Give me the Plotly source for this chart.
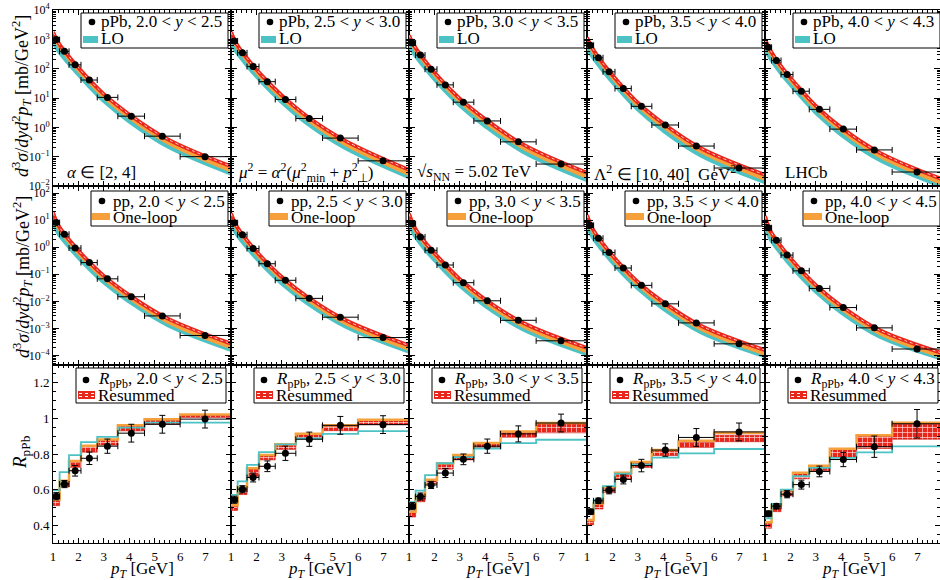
import plotly.graph_objects as go
from plotly.subplots import make_subplots

# ---------------- data ----------------
PT_CENTERS = [1.13, 1.45, 1.87, 2.43, 3.14, 4.08, 5.30, 6.98]
PT_EDGES = [1.0, 1.26, 1.63, 2.10, 2.74, 3.55, 4.60, 6.00, 8.00]
CURVE_PT = [1.0, 1.2, 1.6, 2.2, 3.0, 4.0, 5.5, 8.0]

PPB_RAPIDITY = ["2.0 &lt; <i>y</i> &lt; 2.5", "2.5 &lt; <i>y</i> &lt; 3.0", "3.0 &lt; <i>y</i> &lt; 3.5",
                "3.5 &lt; <i>y</i> &lt; 4.0", "4.0 &lt; <i>y</i> &lt; 4.3"]
PP_RAPIDITY = ["2.0 &lt; <i>y</i> &lt; 2.5", "2.5 &lt; <i>y</i> &lt; 3.0", "3.0 &lt; <i>y</i> &lt; 3.5",
               "3.5 &lt; <i>y</i> &lt; 4.0", "4.0 &lt; <i>y</i> &lt; 4.5"]

# pPb cross sections [mb/GeV^2]
PPB_DATA_Y1 = [980, 390, 135, 41, 10.5, 2.4, 0.50, 0.10]
PPB_DATA_Y2 = [880, 347, 118, 36, 8.9, 2.0, 0.43, 0.072]
PPB_DATA_Y3 = [755, 290, 96, 28, 7.2, 1.65, 0.32, 0.056]
PPB_DATA_Y4 = [630, 235, 78, 21, 5.2, 1.2, 0.23, 0.041]
PPB_DATA_Y5 = [535, 190, 63, 17, 4.1, 0.87, 0.17, 0.030]

# pp cross sections [mb/GeV^2]
PP_DATA_Y1 = [8.1, 3.0, 0.93, 0.27, 0.068, 0.0148, 0.0029, 0.00055]
PP_DATA_Y2 = [8.0, 2.9, 0.89, 0.245, 0.060, 0.0129, 0.0026, 0.00046]
PP_DATA_Y3 = [7.4, 2.4, 0.77, 0.22, 0.049, 0.0105, 0.0020, 0.00035]
PP_DATA_Y4 = [6.4, 2.15, 0.64, 0.17, 0.039, 0.0081, 0.0016, 0.00027]
PP_DATA_Y5 = [5.2, 1.8, 0.51, 0.134, 0.030, 0.0059, 0.00105, 0.000174]

# theory curves, log10 of cross section at CURVE_PT
PPB_RES_LOG_Y1 = [3.25, 2.90, 2.44, 1.84, 1.13, 0.44, -0.40, -1.33]
PPB_RES_LOG_Y2 = [3.25, 2.87, 2.39, 1.78, 1.09, 0.37, -0.46, -1.45]
PPB_RES_LOG_Y3 = [3.14, 2.79, 2.30, 1.68, 0.98, 0.28, -0.59, -1.55]
PPB_RES_LOG_Y4 = [3.06, 2.71, 2.21, 1.58, 0.84, 0.13, -0.72, -1.62]
PPB_RES_LOG_Y5 = [2.99, 2.64, 2.12, 1.49, 0.73, -0.01, -0.86, -1.78]

PPB_NLO_LOG_Y1 = [3.21, 2.86, 2.39, 1.78, 1.06, 0.36, -0.50, -1.46]
PPB_NLO_LOG_Y2 = [3.21, 2.83, 2.34, 1.72, 1.02, 0.29, -0.56, -1.58]
PPB_NLO_LOG_Y3 = [3.10, 2.75, 2.25, 1.62, 0.91, 0.20, -0.69, -1.68]
PPB_NLO_LOG_Y4 = [3.02, 2.67, 2.16, 1.52, 0.77, 0.05, -0.82, -1.75]
PPB_NLO_LOG_Y5 = [2.95, 2.60, 2.07, 1.43, 0.66, -0.09, -0.96, -1.91]

PPB_LO_LOG_Y1 = [2.93, 2.64, 2.21, 1.62, 0.91, 0.21, -0.64, -1.57]
PPB_LO_LOG_Y2 = [2.93, 2.61, 2.16, 1.56, 0.87, 0.14, -0.70, -1.69]
PPB_LO_LOG_Y3 = [2.82, 2.53, 2.07, 1.46, 0.76, 0.05, -0.83, -1.79]
PPB_LO_LOG_Y4 = [2.74, 2.45, 1.98, 1.36, 0.62, -0.10, -0.96, -1.86]
PPB_LO_LOG_Y5 = [2.67, 2.38, 1.89, 1.27, 0.51, -0.24, -1.10, -2.02]

PP_RES_LOG_Y1 = [1.28, 0.82, 0.31, -0.33, -1.06, -1.77, -2.63, -3.56]
PP_RES_LOG_Y2 = [1.25, 0.81, 0.29, -0.36, -1.10, -1.83, -2.69, -3.63]
PP_RES_LOG_Y3 = [1.24, 0.77, 0.22, -0.42, -1.18, -1.93, -2.80, -3.72]
PP_RES_LOG_Y4 = [1.19, 0.71, 0.16, -0.52, -1.28, -2.03, -2.91, -3.80]
PP_RES_LOG_Y5 = [1.15, 0.62, 0.07, -0.62, -1.40, -2.17, -3.06, -3.92]

PP_NLO_LOG_Y1 = [1.24, 0.78, 0.26, -0.39, -1.13, -1.85, -2.73, -3.68]
PP_NLO_LOG_Y2 = [1.21, 0.77, 0.24, -0.42, -1.17, -1.91, -2.79, -3.75]
PP_NLO_LOG_Y3 = [1.20, 0.73, 0.17, -0.48, -1.25, -2.01, -2.90, -3.84]
PP_NLO_LOG_Y4 = [1.15, 0.67, 0.11, -0.58, -1.35, -2.11, -3.01, -3.92]
PP_NLO_LOG_Y5 = [1.11, 0.58, 0.02, -0.68, -1.47, -2.25, -3.16, -4.04]

PP_LO_LOG_Y1 = [0.96, 0.54, 0.06, -0.57, -1.29, -2.00, -2.86, -3.78]
PP_LO_LOG_Y2 = [0.93, 0.53, 0.04, -0.60, -1.33, -2.06, -2.92, -3.85]
PP_LO_LOG_Y3 = [0.92, 0.49, -0.03, -0.66, -1.41, -2.16, -3.03, -3.94]
PP_LO_LOG_Y4 = [0.87, 0.43, -0.09, -0.76, -1.51, -2.26, -3.14, -4.02]
PP_LO_LOG_Y5 = [0.83, 0.34, -0.18, -0.86, -1.63, -2.40, -3.29, -4.12]

# nuclear modification factor
RPPB_Y1 = [0.563, 0.631, 0.706, 0.776, 0.844, 0.917, 0.967, 0.996]
RPPB_Y2 = [0.543, 0.602, 0.668, 0.731, 0.804, 0.883, 0.961, 0.965]
RPPB_Y3 = [0.507, 0.561, 0.626, 0.693, 0.770, 0.844, 0.913, 0.974]
RPPB_Y4 = [0.476, 0.537, 0.596, 0.657, 0.735, 0.822, 0.893, 0.924]
RPPB_Y5 = [0.465, 0.507, 0.574, 0.628, 0.702, 0.769, 0.841, 0.970]

RPPB_ERR_Y1 = [0.02, 0.02, 0.03, 0.035, 0.04, 0.05, 0.05, 0.05]
RPPB_ERR_Y2 = [0.02, 0.02, 0.025, 0.03, 0.04, 0.04, 0.05, 0.05]
RPPB_ERR_Y3 = [0.02, 0.02, 0.02, 0.025, 0.03, 0.04, 0.045, 0.05]
RPPB_ERR_Y4 = [0.015, 0.015, 0.02, 0.025, 0.035, 0.035, 0.05, 0.05]
RPPB_ERR_Y5 = [0.015, 0.015, 0.02, 0.025, 0.03, 0.04, 0.06, 0.08]

RPPB_LO_Y1 = [0.596, 0.698, 0.794, 0.867, 0.896, 0.948, 0.976, 0.976]
RPPB_LO_Y2 = [0.570, 0.646, 0.739, 0.811, 0.854, 0.887, 0.913, 0.928]
RPPB_LO_Y3 = [0.530, 0.594, 0.681, 0.748, 0.783, 0.831, 0.861, 0.880]
RPPB_LO_Y4 = [0.472, 0.541, 0.620, 0.689, 0.741, 0.780, 0.804, 0.828]
RPPB_LO_Y5 = [0.439, 0.519, 0.600, 0.676, 0.722, 0.778, 0.809, 0.843]

RPPB_NLO_Y1 = [0.545, 0.650, 0.760, 0.847, 0.882, 0.962, 0.995, 1.022]
RPPB_NLO_Y2 = [0.512, 0.614, 0.720, 0.794, 0.855, 0.914, 0.961, 0.992]
RPPB_NLO_Y3 = [0.475, 0.564, 0.655, 0.748, 0.794, 0.862, 0.927, 0.974]
RPPB_NLO_Y4 = [0.429, 0.522, 0.614, 0.694, 0.755, 0.822, 0.875, 0.920]
RPPB_NLO_Y5 = [0.416, 0.512, 0.596, 0.694, 0.734, 0.829, 0.905, 0.976]

RPPB_RES_LOW_Y1 = [0.510, 0.615, 0.725, 0.810, 0.850, 0.930, 0.967, 1.005]
RPPB_RES_HIGH_Y1 = [0.540, 0.645, 0.755, 0.842, 0.877, 0.957, 0.990, 1.017]
RPPB_RES_LOW_Y2 = [0.483, 0.572, 0.674, 0.767, 0.826, 0.887, 0.931, 0.965]
RPPB_RES_HIGH_Y2 = [0.507, 0.609, 0.715, 0.789, 0.850, 0.909, 0.956, 0.987]
RPPB_RES_LOW_Y3 = [0.446, 0.532, 0.632, 0.715, 0.767, 0.835, 0.894, 0.919]
RPPB_RES_HIGH_Y3 = [0.470, 0.559, 0.650, 0.743, 0.789, 0.857, 0.922, 0.969]
RPPB_RES_LOW_Y4 = [0.402, 0.491, 0.583, 0.661, 0.724, 0.791, 0.837, 0.869]
RPPB_RES_HIGH_Y4 = [0.424, 0.517, 0.609, 0.689, 0.750, 0.817, 0.865, 0.906]
RPPB_RES_LOW_Y5 = [0.383, 0.476, 0.565, 0.661, 0.707, 0.781, 0.831, 0.883]
RPPB_RES_HIGH_Y5 = [0.411, 0.507, 0.591, 0.689, 0.729, 0.824, 0.898, 0.967]

ROW1_NOTES = ["<i>α</i> ∈ [2, 4]",
              "<i>μ</i><sup>2</sup> = <i>α</i><sup>2</sup>(<i>μ</i><sup>2</sup><sub>min</sub> + <i>p</i><sup>2</sup><sub>⊥</sub>)",
              "√<i>s</i><sub>NN</sub> = 5.02 TeV",
              "Λ<sup>2</sup> ∈ [10, 40]  GeV<sup>2</sup>",
              "LHCb"]

PPB_DATA = [PPB_DATA_Y1, PPB_DATA_Y2, PPB_DATA_Y3, PPB_DATA_Y4, PPB_DATA_Y5]
PP_DATA = [PP_DATA_Y1, PP_DATA_Y2, PP_DATA_Y3, PP_DATA_Y4, PP_DATA_Y5]
PPB_RES = [PPB_RES_LOG_Y1, PPB_RES_LOG_Y2, PPB_RES_LOG_Y3, PPB_RES_LOG_Y4, PPB_RES_LOG_Y5]
PPB_NLO = [PPB_NLO_LOG_Y1, PPB_NLO_LOG_Y2, PPB_NLO_LOG_Y3, PPB_NLO_LOG_Y4, PPB_NLO_LOG_Y5]
PPB_LO = [PPB_LO_LOG_Y1, PPB_LO_LOG_Y2, PPB_LO_LOG_Y3, PPB_LO_LOG_Y4, PPB_LO_LOG_Y5]
PP_RES = [PP_RES_LOG_Y1, PP_RES_LOG_Y2, PP_RES_LOG_Y3, PP_RES_LOG_Y4, PP_RES_LOG_Y5]
PP_NLO = [PP_NLO_LOG_Y1, PP_NLO_LOG_Y2, PP_NLO_LOG_Y3, PP_NLO_LOG_Y4, PP_NLO_LOG_Y5]
PP_LO = [PP_LO_LOG_Y1, PP_LO_LOG_Y2, PP_LO_LOG_Y3, PP_LO_LOG_Y4, PP_LO_LOG_Y5]
RPPB = [RPPB_Y1, RPPB_Y2, RPPB_Y3, RPPB_Y4, RPPB_Y5]
RPPB_ERR = [RPPB_ERR_Y1, RPPB_ERR_Y2, RPPB_ERR_Y3, RPPB_ERR_Y4, RPPB_ERR_Y5]
RPPB_LO = [RPPB_LO_Y1, RPPB_LO_Y2, RPPB_LO_Y3, RPPB_LO_Y4, RPPB_LO_Y5]
RPPB_NLO = [RPPB_NLO_Y1, RPPB_NLO_Y2, RPPB_NLO_Y3, RPPB_NLO_Y4, RPPB_NLO_Y5]
RPPB_RES_LOW = [RPPB_RES_LOW_Y1, RPPB_RES_LOW_Y2, RPPB_RES_LOW_Y3, RPPB_RES_LOW_Y4, RPPB_RES_LOW_Y5]
RPPB_RES_HIGH = [RPPB_RES_HIGH_Y1, RPPB_RES_HIGH_Y2, RPPB_RES_HIGH_Y3, RPPB_RES_HIGH_Y4, RPPB_RES_HIGH_Y5]

# ---------------- style / layout ----------------
FONT = "Liberation Serif, Times New Roman, serif"
RED = "#e9261b"
ORANGE = "#f6a03c"
CYAN = "#4dc2c4"
W, H = 940, 580
PLOT_L, PLOT_T, PLOT_R, PLOT_B = 53, 10, 940, 543
PLOT_W, PLOT_H = PLOT_R - PLOT_L, PLOT_B - PLOT_T
COL_PX = [178, 178, 178, 178, 175]
ROW_PX = [176, 179, 178]
COL_LEFT = [53, 231, 409, 587, 765]


def px(x):
    return (x - PLOT_L) / PLOT_W


def py(y):
    return 1 - (y - PLOT_T) / PLOT_H


fig = make_subplots(rows=3, cols=5, column_widths=COL_PX, row_heights=ROW_PX,
                    horizontal_spacing=0, vertical_spacing=0)

xerr_plus = [PT_EDGES[i + 1] - PT_CENTERS[i] for i in range(8)]
xerr_minus = [PT_CENTERS[i] - PT_EDGES[i] for i in range(8)]

log_rows = [(1, PPB_RES, PPB_NLO, PPB_LO, PPB_DATA), (2, PP_RES, PP_NLO, PP_LO, PP_DATA)]
for r, res, nlo, lo, dat in log_rows:
    for c in range(5):
        for arr, col, wd in ((lo[c], CYAN, 4.5), (nlo[c], ORANGE, 4.5), (res[c], RED, 3.8)):
            fig.add_trace(go.Scatter(x=CURVE_PT, y=[10 ** v for v in arr], mode="lines",
                                     line=dict(color=col, width=wd, shape="spline"),
                                     showlegend=False, hoverinfo="skip"), row=r, col=c + 1)
        fig.add_trace(go.Scatter(x=CURVE_PT, y=[10 ** v for v in res[c]], mode="lines",
                                 line=dict(color="rgba(255,235,235,0.85)", width=1, dash="dot", shape="spline"),
                                 showlegend=False, hoverinfo="skip"), row=r, col=c + 1)
        fig.add_trace(go.Scatter(x=PT_CENTERS, y=dat[c], mode="markers",
                                 marker=dict(color="black", size=7),
                                 error_x=dict(type="data", symmetric=False, array=xerr_plus,
                                              arrayminus=xerr_minus, color="black", thickness=1, width=3),
                                 showlegend=False), row=r, col=c + 1)

bin_mid = [(PT_EDGES[i] + PT_EDGES[i + 1]) / 2 for i in range(8)]
bin_w = [PT_EDGES[i + 1] - PT_EDGES[i] for i in range(8)]
for c in range(5):
    lowv, highv = RPPB_RES_LOW[c], RPPB_RES_HIGH[c]
    fig.add_trace(go.Bar(x=bin_mid, y=[highv[i] - lowv[i] for i in range(8)], base=lowv, width=bin_w,
                         marker=dict(color=RED, line=dict(color="#c8140c", width=0.6),
                                     pattern=dict(shape="+", fgcolor="rgba(255,255,255,0.85)", bgcolor=RED,
                                                  size=5, solidity=0.25, fillmode="replace")),
                         showlegend=False, hoverinfo="skip"), row=3, col=c + 1)
    fig.add_trace(go.Scatter(x=PT_EDGES, y=RPPB_NLO[c] + [RPPB_NLO[c][-1]], mode="lines",
                             line=dict(color=ORANGE, width=2.5, shape="hv"),
                             showlegend=False, hoverinfo="skip"), row=3, col=c + 1)
    fig.add_trace(go.Scatter(x=PT_EDGES, y=RPPB_LO[c] + [RPPB_LO[c][-1]], mode="lines",
                             line=dict(color=CYAN, width=1.8, shape="hv"),
                             showlegend=False, hoverinfo="skip"), row=3, col=c + 1)
    fig.add_trace(go.Scatter(x=PT_CENTERS, y=RPPB[c], mode="markers",
                             marker=dict(color="black", size=7),
                             error_x=dict(type="data", symmetric=False, array=xerr_plus,
                                          arrayminus=xerr_minus, color="black", thickness=1, width=3),
                             error_y=dict(type="data", array=RPPB_ERR[c], color="black", thickness=1, width=3),
                             showlegend=False), row=3, col=c + 1)

# ---------------- axes ----------------
tickfont = dict(family=FONT, size=13, color="black")
sup = {-4: "−4", -3: "−3", -2: "−2", -1: "−1", 0: "0", 1: "1", 2: "2", 3: "3", 4: "4"}
for r in (1, 2, 3):
    for c in range(1, 6):
        xr = [1, 8] if c < 5 else [1, 1 + 7 * 175 / 178]
        fig.update_xaxes(row=r, col=c, range=xr, showgrid=False, zeroline=False, showline=True,
                         linecolor="black", linewidth=1, mirror="allticks", ticks="inside", ticklen=5,
                         tickcolor="black", tickmode="array", tickvals=[1, 2, 3, 4, 5, 6, 7],
                         showticklabels=(r == 3), tickfont=tickfont, ticklabelstandoff=1,
                         minor=dict(ticks="inside", ticklen=3, tickmode="linear", tick0=1, dtick=0.2,
                                    tickcolor="black", showgrid=False))
        if r == 1:
            kr = range(-2, 5)
            yr = [-2, 4]
        elif r == 2:
            kr = range(-4, 3)
            yr = [-4.35, 2.26]
        if r in (1, 2):
            fig.update_yaxes(row=r, col=c, type="log", range=yr, showgrid=False, zeroline=False, showline=True,
                             linecolor="black", linewidth=1, mirror="allticks", ticks="inside", ticklen=6,
                             tickcolor="black", tickmode="array", tickvals=[10.0 ** k for k in kr],
                             ticktext=["10<sup>%s</sup>" % sup[k] for k in kr],
                             showticklabels=(c == 1), tickfont=dict(family=FONT, size=12, color="black"),
                             minor=dict(ticks="inside", ticklen=3, tickmode="array",
                                        tickvals=[m * 10.0 ** k for k in range(kr[0] - 1, kr[-1] + 1) for m in range(2, 10)],
                                        tickcolor="black", showgrid=False))
        else:
            fig.update_yaxes(row=r, col=c, range=[0.3, 1.3], showgrid=False, zeroline=False, showline=True,
                             linecolor="black", linewidth=1, mirror="allticks", ticks="inside", ticklen=5,
                             tickcolor="black", tickmode="array", tickvals=[0.4, 0.6, 0.8, 1.0, 1.2],
                             ticktext=["0.4", "0.6", "0.8", "1", "1.2"],
                             showticklabels=(c == 1), tickfont=tickfont,
                             minor=dict(ticks="inside", ticklen=3, tickmode="linear", tick0=0.3, dtick=0.05,
                                        tickcolor="black", showgrid=False))

# ---------------- legends (boxes, symbols, text) ----------------
annotations = []
shapes = []
LFS = 17
legend_specs = [
    (1, 28, 175, 13, 48, 39, 46, 22, 39, 30, 45, 36, 43, "pPb", "LO", CYAN),
    (2, 38, 175, 191, 226, 49, 58, 201, 217, 39, 57, 213, 220, "pp", "One-loop", ORANGE),
    (3, 23, 173, 368, 403, 33, 43, 380, 395, 25, 42, 391, 399, "<i>R</i><sub>pPb</sub>", "Resummed", RED),
]
for (r, bx0, bx1, bt, bb, dx, tx, y1, y2, sx0, sx1, sy0, sy1, name, second, scol) in legend_specs:
    labels = PP_RAPIDITY if r == 2 else PPB_RAPIDITY
    for c in range(5):
        L = COL_LEFT[c]
        right = min(L + bx1, 941)
        shapes.append(dict(type="rect", xref="paper", yref="paper", x0=px(L + bx0), x1=px(right),
                           y0=py(bb), y1=py(bt), line=dict(color="black", width=1), fillcolor="white",
                           layer="above"))
        shapes.append(dict(type="circle", xref="paper", yref="paper", x0=px(L + dx - 3.3), x1=px(L + dx + 3.3),
                           y0=py(y1 + 3.3), y1=py(y1 - 3.3), line=dict(width=0), fillcolor="black",
                           layer="above"))
        shapes.append(dict(type="rect", xref="paper", yref="paper", x0=px(L + sx0), x1=px(L + sx1),
                           y0=py(sy1), y1=py(sy0), line=dict(width=0), fillcolor=scol, layer="above"))
        if r == 3:
            for yy in (sy0 + 2.5, sy1 - 2.5):
                shapes.append(dict(type="line", xref="paper", yref="paper", x0=px(L + sx0 + 1), x1=px(L + sx1 - 1),
                                   y0=py(yy), y1=py(yy), line=dict(color="white", width=1, dash="dot"),
                                   layer="above"))
        annotations.append(dict(xref="paper", yref="paper", x=px(L + tx), y=py(y1), xanchor="left",
                                yanchor="middle", showarrow=False, text="%s, %s" % (name, labels[c]),
                                font=dict(family=FONT, size=LFS, color="black")))
        annotations.append(dict(xref="paper", yref="paper", x=px(L + sx1 + 1), y=py(y2), xanchor="left",
                                yanchor="middle", showarrow=False, text=second,
                                font=dict(family=FONT, size=LFS, color="black")))

# row 1 notes
note_x = [12, 5, 6, 5, 18]
for c in range(5):
    annotations.append(dict(xref="paper", yref="paper", x=px(COL_LEFT[c] + note_x[c]), y=py(173),
                            xanchor="left", yanchor="middle", showarrow=False, text=ROW1_NOTES[c],
                            font=dict(family=FONT, size=LFS, color="black")))

# axis titles
ytitle = "<i>d</i><sup>3</sup><i>σ</i>/<i>dyd</i><sup>2</sup><i>p<sub>T</sub></i> [mb/GeV<sup>2</sup>]"
annotations.append(dict(xref="paper", yref="paper", x=px(21), y=py(96), textangle=-90, showarrow=False,
                        xanchor="center", yanchor="middle", text=ytitle, font=dict(family=FONT, size=18, color="black")))
annotations.append(dict(xref="paper", yref="paper", x=px(22), y=py(277), textangle=-90, showarrow=False,
                        xanchor="center", yanchor="middle", text=ytitle, font=dict(family=FONT, size=18, color="black")))
annotations.append(dict(xref="paper", yref="paper", x=px(21), y=py(452), textangle=-90, showarrow=False,
                        xanchor="center", yanchor="middle", text="<i>R</i><sub>pPb</sub>",
                        font=dict(family=FONT, size=19, color="black")))
for c in range(5):
    annotations.append(dict(xref="paper", yref="paper", x=px(COL_LEFT[c] + 89), y=py(570), showarrow=False,
                            xanchor="center", yanchor="middle", text="<i>p<sub>T</sub></i> [GeV]",
                            font=dict(family=FONT, size=17, color="black")))

fig.update_layout(width=W, height=H, margin=dict(l=PLOT_L, r=W - PLOT_R, t=PLOT_T, b=H - PLOT_B),
                  paper_bgcolor="white", plot_bgcolor="white", showlegend=False,
                  font=dict(family=FONT, color="black"), annotations=annotations, shapes=shapes,
                  barmode="overlay")

fig.write_html("out.html", config={"displayModeBar": False},
               post_script="document.body.style.margin='0px';document.body.style.overflow='hidden';")
